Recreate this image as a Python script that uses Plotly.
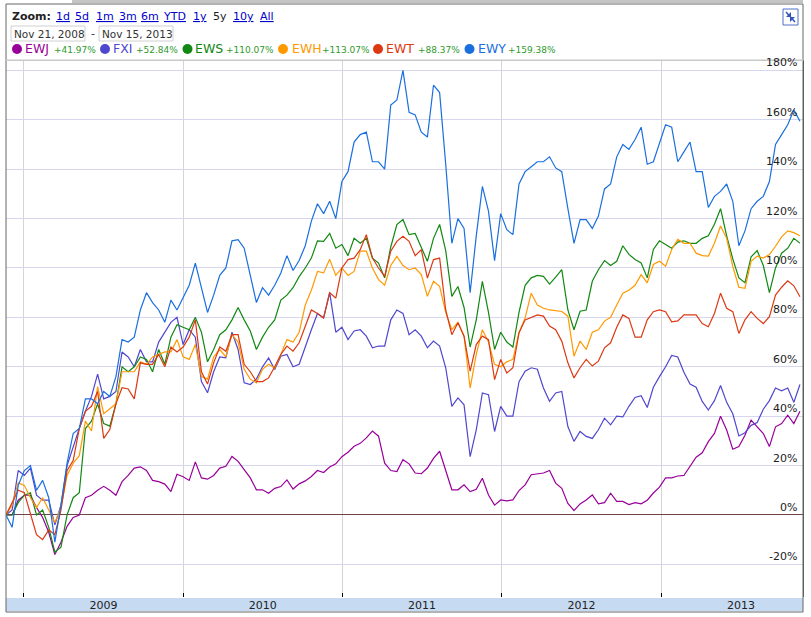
import pandas as pd
import plotly.graph_objects as go

# two-weekly closes, % change since Nov 21, 2008
dates = pd.date_range(start="2008-11-21", periods=131, freq="14D")

ewj = [0, 0, 6, 8, 8, 3, -1, -7, -16, -11,
       -4.6, -1, 0, 7, 8, 10, 11.6, 10, 8, 13.5,
       16, 19, 19.5, 18, 14, 13.5, 12.5, 9.5, 16.5, 15.5,
       14, 21.5, 15, 14.5, 16, 19,
       19.7, 23.7, 21.7, 18.3, 15, 10.2, 10.2, 8.8, 10.8, 11.5,
       14.2, 10.5, 12.6, 13.8, 15.6, 18, 17.2, 19.4, 20.7, 23.6,
       25.4, 27.8, 29, 31.2, 34, 31.9, 21, 18, 17.6, 22.4,
       20.7, 17, 16.7, 19, 22.9, 25.8, 18.3, 10.2, 10.2, 12.2,
       9.5, 10.4, 14.9, 8.1, 4, 6.1, 5.7, 6.1, 9.9, 12.2,
       16.3, 16.7, 17, 18, 12.9, 10.8, 4.7, 1.8, 4.5, 6.1,
       8.1, 4.5, 5, 8.8,
       5.5, 5.5, 4.2, 5, 4.5, 6, 8.9, 11.3, 15, 15,
       15.8, 16, 19.6, 23.4, 25.2, 29.7, 33, 40, 34.4, 26.6,
       27.7, 32.3, 38.4, 35.7, 33, 27.7, 35.7, 37, 40.4, 37,
       41.97]

fxi = [0, 2, 18, 16, 19, 8, 6, 6, -4, 4,
       20, 27.8, 35, 42, 48, 57, 47, 48, 50, 66,
       64, 60, 67, 62, 62, 70, 74, 78, 80, 69,
       75, 72, 54, 49.5, 58, 64,
       63.6, 74, 67, 53.5, 52.8, 55, 60, 63.6, 58.9, 64.3,
       65, 60, 61, 68.4, 75, 81.6, 79.8, 90, 74, 76,
       71, 74.5, 75, 72.4, 67.7, 68.4, 68.4, 79, 83, 81.6,
       73, 75, 72.4, 67.7, 70.4, 68.4, 59.6, 44, 47.4, 44.6,
       23.6, 34.5, 49.4, 48.7, 33.8, 44, 40, 40, 54, 58.2,
       59.6, 59, 51.4, 46, 49.4, 50, 35.8, 29.8, 33.8, 31.8,
       31, 34.5, 39.2, 36.5,
       40, 39.7, 44, 47.6, 48.3, 43.5, 51.7, 56, 60, 64.6,
       64, 57.8, 53, 51.7, 46, 42.5, 46.3, 52.4, 45.6, 41,
       32, 33.3, 36.3, 37.4, 42.8, 46.3, 51.4, 50.3, 51.4, 45.6,
       52.84]

ews = [0, 0, 5, 8, 9, 0, 2, -5, -15, -13,
       0, 7, 9, 35, 38, 45, 37, 36, 45, 60,
       58, 60, 64, 63, 58, 67, 61, 72, 77, 76,
       75, 80, 74, 62, 67, 73,
       75, 79, 84, 79, 74.5, 67, 72, 76, 79, 87,
       89, 92, 96.5, 100, 104, 111, 110.8, 114, 108, 109.5,
       105, 112, 110, 112, 104, 102, 96, 108.5, 117.6, 119.6,
       113.5, 114, 108, 102.7, 112, 117.6, 107, 88.5, 92.5, 84,
       68, 79, 94.6, 82, 67, 74, 70, 68, 82, 93,
       96, 97, 96.6, 93.5, 96.3, 99.3, 83, 75, 82.5, 83,
       94.6, 99.3, 103, 101,
       102.7, 109, 105.5, 103.4, 102, 96, 107.5, 111, 109.5, 108,
       110.5, 111, 110, 110, 112, 113, 117.7, 124, 113, 103.7,
       96, 94, 104.5, 107, 101, 90, 100, 106, 108, 112,
       110.07]

ewh = [0, 4, 13, 12, 7, 3, 7, 2, -3, 3,
       16, 21, 24, 38, 34, 52, 41, 43, 45, 58,
       58, 58, 62, 61, 64, 65, 66, 66, 71, 64,
       63, 69, 56, 55, 64, 67,
       64, 73, 70, 59, 55, 53.5, 59, 61, 59.5, 65,
       71, 70, 74, 85, 91, 98.6, 98, 103.5, 97, 100,
       97, 98.6, 106.8, 106.8, 100, 95.3, 93, 101, 104.7, 101,
       99.3, 100, 97.3, 88.5, 94.6, 92.6, 82, 75, 78, 72.4,
       51.4, 65, 75, 70, 61, 60, 62, 63, 73.8, 79.8,
       89.8, 85, 83.7, 83, 82.7, 82.4, 80.5, 64.3, 70.4, 67,
       74, 75, 78.5, 80,
       85, 89.8, 91, 93, 97.3, 94, 101.4, 102.7, 100.7, 107.5,
       111.6, 110, 110, 106, 105, 104.8, 110, 117, 112, 100.7,
       92.2, 91.8, 102.7, 104.8, 104, 105.4, 108.8, 112.6, 115, 114.3,
       113.07]

ewt = [0, 5, 10, 9, 0, -8, -10, -6, -8, 2,
       18, 22, 35, 42, 44, 50, 31, 34.6, 45, 51.5,
       51, 47, 61.6, 61, 61, 65, 60, 68, 66, 68,
       72, 79, 58, 53, 61.6, 68,
       66.3, 73, 73, 61, 58, 54, 54, 55.5, 60, 65,
       68.4, 66.3, 69.7, 76.5, 83, 81.6, 79.8, 90, 87.8, 100,
       103.4, 104, 107.4, 113.5, 104, 100, 96.6, 106.8, 110.8, 112.8,
       110.8, 105, 107.4, 95.9, 103.4, 104, 83, 73, 77.8, 72.4,
       58.2, 69, 72.4, 71, 54.8, 63, 57.5, 59.6, 73.8, 79,
       80, 81, 80.5, 76.5, 75, 70.4, 61.6, 55.5, 59.6, 63,
       60.3, 62.3, 67.7, 69.7,
       76, 81, 79.6, 72, 72, 79, 82.3, 83, 82.3, 78.2,
       78.6, 81, 81, 81, 77.5, 76.2, 81.6, 89.8, 83.7, 82.3,
       73.5, 79, 82.3, 79.6, 77.5, 80.3, 89, 92.2, 94.8, 92.8,
       88.37]

ewy = [0, -5, 12, 18, 20, 10, 14, 7, -11, 4,
       21, 33, 35, 47, 47, 45, 50, 48, 56, 71,
       70, 72, 83, 90, 86, 83, 78, 87, 83, 88,
       93, 102, 92, 82, 89, 97,
       100, 111, 111.5, 108, 97, 86, 92, 89, 93, 98,
       105, 99, 103, 109, 119, 126, 122, 127, 120, 135,
       139, 151, 154, 155, 143, 143, 140, 166, 168, 180,
       163, 162, 155, 153, 174, 171, 142, 110, 120, 116,
       90, 113, 133, 123, 103, 122, 115.5, 113.5, 134, 139,
       141, 143, 143, 145, 140.5, 139, 124, 110, 119.6, 119.6,
       116, 121, 132, 134,
       145, 150, 148, 152, 157, 142, 143, 151, 158, 157,
       143, 147, 151, 139, 139, 124.5, 129, 131, 134, 127,
       109, 115, 124, 127, 129, 135, 150, 154, 158, 164,
       159.38]

tickers = ['EWJ', 'FXI', 'EWS', 'EWH', 'EWT', 'EWY']
colors = ['#990099', '#4f47cf', '#118811', '#ff9900', '#dc3912', '#1a6fdf']
changes = ['+41.97%', '+52.84%', '+110.07%', '+113.07%', '+88.37%', '+159.38%']
series = [ewj, fxi, ews, ewh, ewt, ewy]

y_ticks = [-20, 0, 20, 40, 60, 80, 100, 120, 140, 160, 180]
y_labels = ['-20%', '0%', '20%', '40%', '60%', '80%', '100%', '120%', '140%', '160%', '180%']
zoom_links = ['1d', '5d', '1m', '3m', '6m', 'YTD', '1y', '5y', '10y', 'All']

FONT = 'DejaVu Sans'


def px(x):
    # screen pixel -> paper x
    return (x - 6) / 797.0


def py(y):
    # screen pixel -> paper y
    return (597 - y) / 537.0


fig = go.Figure()
for name, col, vals in zip(tickers, colors, series):
    fig.add_trace(go.Scatter(x=dates, y=vals, mode='lines', name=name,
                             line=dict(color=col, width=1.2), hoverinfo='skip'))

shapes = []
annotations = []


def text(x, y, s, size=11, color='#222222', anchor='left'):
    annotations.append(dict(x=px(x), y=py(y), xref='paper', yref='paper', text=s, showarrow=False,
                            xanchor=anchor, yanchor='middle', font=dict(family=FONT, size=size, color=color),
                            borderpad=0))


def rect(x0, y0, x1, y1, line='#cccccc', fill=None, width=1, layer='above'):
    shapes.append(dict(type='rect', xref='paper', yref='paper', x0=px(x0), y0=py(y0), x1=px(x1), y1=py(y1),
                       line=dict(color=line, width=width) if line else dict(width=0),
                       fillcolor=fill, layer=layer))


# outer frame and header
rect(6, 4, 803, 612, line='#666666', width=1)
rect(72, 0, 803, 3, line=None, fill='#c4c4c4')
rect(6, 60, 803, 60.5, line='#c8c8c8', width=1)

text(11, 16, '<b>Zoom:</b>')
link_x = [55, 74, 95, 118, 140, 162, 192, 212, 232, 259]
for lbl, lx in zip(zoom_links, link_x):
    if lbl == '5y':
        text(lx, 16, lbl)
    else:
        text(lx, 16, '<u>' + lbl + '</u>', color='#0000cc')

rect(11, 26, 85, 41, line='#d0d0d0')
text(13, 33.5, 'Nov 21, 2008', size=10.5, color='#333333')
text(90, 33.5, '-', color='#333333')
rect(99, 26, 173, 41, line='#d0d0d0')
text(101, 33.5, 'Nov 15, 2013', size=10.5, color='#333333')

dot_x = [17, 105, 187.5, 283, 378, 469.5]
name_x = [24, 112, 194, 291, 385, 477]
pct_x = [53, 135, 225, 321, 417, 507]
for i in range(len(tickers)):
    shapes.append(dict(type='circle', xref='paper', yref='paper',
                       x0=px(dot_x[i] - 5), x1=px(dot_x[i] + 5), y0=py(44), y1=py(54),
                       fillcolor=colors[i], line=dict(width=0)))
    text(name_x[i], 48.5, tickers[i], size=12.5, color=colors[i])
    text(pct_x[i], 50.5, changes[i], size=9, color='#2e9a2e')

# y labels sit just above their gridlines, inside the plot on the right
for v, lbl in zip(y_ticks, y_labels):
    annotations.append(dict(x=px(798), y=v, xref='paper', yref='y', text=lbl, showarrow=False,
                            xanchor='right', yanchor='bottom', borderpad=0,
                            font=dict(family=FONT, size=11, color='#222222')))

# small collapse icon at top right
rect(783, 9, 798, 25, line='#5070c8', fill='white', width=1)
shapes.append(dict(type='line', xref='paper', yref='paper', x0=px(786), y0=py(12), x1=px(795), y1=py(22),
                   line=dict(color='#3355bb', width=1.5)))
shapes.append(dict(type='path', xref='paper', yref='paper', fillcolor='#3355bb', line=dict(width=0),
                   path='M%f,%f L%f,%f L%f,%f Z' % (px(791), py(17), px(786), py(17), px(791), py(12))))
shapes.append(dict(type='path', xref='paper', yref='paper', fillcolor='#3355bb', line=dict(width=0),
                   path='M%f,%f L%f,%f L%f,%f Z' % (px(790), py(17), px(795), py(17), px(790), py(22))))

# year strip under the plot
rect(6, 598, 803, 611, line=None, fill='#c6daf2', layer='below')

fig.update_layout(
    width=811, height=617,
    margin=dict(l=6, r=8, t=60, b=20),
    paper_bgcolor='white', plot_bgcolor='white',
    showlegend=False, hovermode=False,
    font=dict(family=FONT, size=11, color='#222222'),
    shapes=shapes, annotations=annotations,
    xaxis=dict(type='date', range=['2008-11-21', '2013-11-22'],
               dtick='M12', tick0='2009-01-01', ticklabelmode='period', tickformat='%Y',
               ticks='inside', ticklen=4, tickcolor='#000000',
               showgrid=True, gridcolor='#d4d4d4', gridwidth=1,
               showline=False, zeroline=False,
               tickfont=dict(family=FONT, size=11, color='#222222')),
    yaxis=dict(range=[-33.2, 184.2], side='right', tickvals=y_ticks, showticklabels=False,
               showgrid=True, gridcolor='#d6d6ee', gridwidth=1,
               zeroline=True, zerolinecolor='#6e4646', zerolinewidth=1.2,
               showline=True, linecolor='#555555', ticks=''),
)

# page body has a default 8px margin; drop it so the figure sits at the window origin
fig.write_html("out.html", config={'displayModeBar': False},
               post_script="document.body.style.margin='0px';")
